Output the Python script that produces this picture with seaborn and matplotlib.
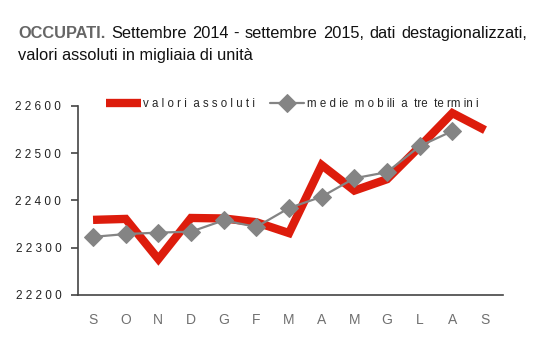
import matplotlib
matplotlib.use("Agg")
import matplotlib.pyplot as plt
import seaborn as sns
import pandas as pd
from matplotlib.ticker import FuncFormatter

# month labels (Sep 2014 - Sep 2015)
months = ["S", "O", "N", "D", "G", "F", "M", "A", "M", "G", "L", "A", "S"]
# occupied, absolute values (thousands)
valori_assoluti = [22359, 22361, 22276, 22363, 22362, 22354, 22331,
                   22475, 22421, 22445, 22514, 22585, 22549]
# three-term moving averages (last month missing)
medie_mobili = [22323, 22329, 22332, 22334, 22358, 22344, 22384,
                22408, 22447, 22460, 22515, 22547, None]

y_ticks = [22200, 22300, 22400, 22500, 22600]

sns.set_style("white")
plt.rcParams['font.family'] = ['Liberation Sans', 'DejaVu Sans']

df = pd.DataFrame({
    'pos': range(len(months)),
    'valori': valori_assoluti,
    'medie': pd.to_numeric(pd.Series(medie_mobili), errors='coerce'),
})

def spaced(s):
    return " ".join(s)

fig = plt.figure(figsize=(5.58, 3.64), dpi=100)
ax = fig.add_axes([0.1398, 0.1896, 0.7616, 0.5192])

red = "#dd1c0c"
grey = "#848484"

sns.lineplot(data=df, x='pos', y='valori', ax=ax, color=red, linewidth=6,
             solid_joinstyle='miter', solid_capstyle='butt',
             label=spaced("valori") + "  " + spaced("assoluti"))
sns.lineplot(data=df.dropna(), x='pos', y='medie', ax=ax, color=grey, linewidth=1.6,
             marker='D', markersize=9, markeredgecolor=grey,
             label="m e d ie  m o b ili  a  tre  te rm in i")

ax.set_xlim(-0.46, 12.55)
ax.set_ylim(22200, 22600)
ax.set_yticks(y_ticks)
ax.yaxis.set_major_formatter(FuncFormatter(lambda v, p: spaced(str(int(v)))))
ax.set_xticks(range(len(months)))
ax.set_xticklabels(months)
ax.set_xlabel("")
ax.set_ylabel("")

for s in ['top', 'right']:
    ax.spines[s].set_visible(False)
for s in ['left', 'bottom']:
    ax.spines[s].set_color("#444444")
    ax.spines[s].set_linewidth(1.2)

ax.tick_params(axis='y', direction='out', length=5, width=1.2, color="#444444",
               pad=7, labelsize=8.5, labelcolor="#222222", left=True)
ax.tick_params(axis='x', length=0, pad=13, labelsize=10, labelcolor="#707070")

leg = ax.legend(loc='lower left', bbox_to_anchor=(0.055, 0.955), ncol=2, frameon=False,
                fontsize=8.3, handlelength=3.0, handletextpad=0.2, columnspacing=1.3,
                borderaxespad=0)

# title: first line justified between x=18 and x=527 px
px = lambda x: x / 558
py = lambda y: 1 - y / 364
tsize = 11.8
words = ["OCCUPATI.", "Settembre", "2014", "-", "settembre", "2015,", "dati",
         "destagionalizzati,"]
texts = []
for i, w in enumerate(words):
    if i == 0:
        t = fig.text(0, py(38), w, fontsize=tsize, fontweight='bold', color="#666666")
    else:
        t = fig.text(0, py(38), w, fontsize=tsize, color="#111111")
    texts.append(t)
fig.canvas.draw()
r = fig.canvas.get_renderer()
widths = [t.get_window_extent(r).width for t in texts]
gap = (527 - 18 - sum(widths)) / (len(words) - 1)
x = 18
for t, wd in zip(texts, widths):
    t.set_x(px(x))
    x += wd + gap
fig.text(px(18), py(60), "valori assoluti in migliaia di unità", fontsize=tsize, color="#111111")

fig.savefig("out.png", dpi=100)
